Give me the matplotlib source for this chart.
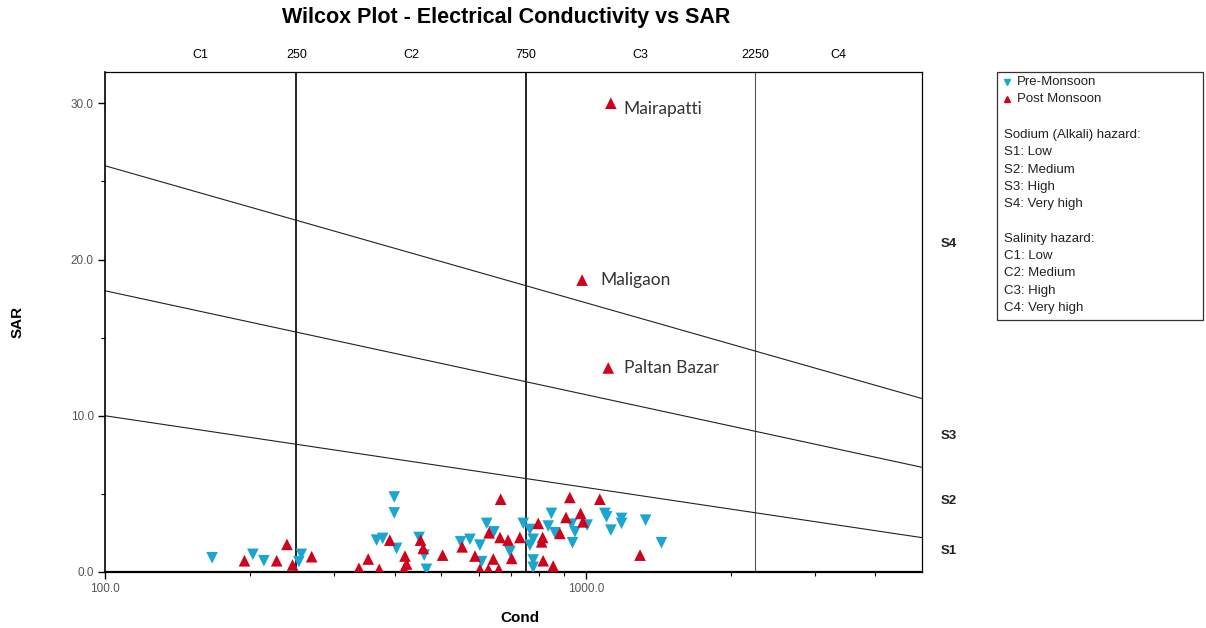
import matplotlib
matplotlib.use("Agg")
import matplotlib.pyplot as plt
import matplotlib.transforms as mtransforms
from matplotlib.lines import Line2D
from matplotlib.patches import Rectangle
from matplotlib.ticker import FixedLocator, NullFormatter

# ---------------- data ----------------
pre_ec = [167, 203, 214, 256, 253,
          399.5, 399.5, 367, 378, 404, 450, 461, 466, 549, 574, 602, 607, 622, 644,
          848, 1095, 1104, 1186, 1186, 1331, 1127, 1006, 934, 949, 938, 835, 862,
          777, 741, 765, 765, 695, 777, 777, 1436]
pre_sar = [0.91, 1.13, 0.72, 1.13, 0.66,
           4.8, 3.78, 2.04, 2.15, 1.51, 2.21, 1.08, 0.17, 1.93, 2.09, 1.72, 0.66, 3.11, 2.57,
           3.75, 3.75, 3.53, 3.43, 3.11, 3.32, 2.68, 3.0, 3.06, 2.57, 1.87, 2.94, 2.51,
           2.09, 3.11, 2.72, 1.72, 1.30, 0.77, 0.3, 1.87]

post_ec = [195, 227.5, 239, 245.5, 269,
           391, 352.7, 337.4, 371.8, 420.5, 423.8, 418.5, 453, 459, 503.6, 553, 588, 602,
           627, 659, 642, 629, 663, 665, 689,
           926, 1069, 909, 975, 986, 796, 883, 813, 809, 729, 701, 815, 855, 1296]
post_sar = [0.72, 0.72, 1.77, 0.45, 0.98,
            2.04, 0.83, 0.24, 0.17, 1.02, 0.51, 0.19, 2.04, 1.51, 1.08, 1.61, 1.02, 0.17,
            0.17, 0.17, 0.83, 2.51, 2.21, 4.66, 2.04,
            4.77, 4.66, 3.49, 3.75, 3.21, 3.11, 2.47, 2.21, 1.93, 2.21, 0.87, 0.72, 0.38, 1.08]

named_sites = ["Mairapatti", "Maligaon", "Paltan Bazar"]
named_ec = [1127, 982, 1113]
named_sar = [30.0, 18.68, 13.06]

# salinity class boundaries (EC) and class labels
c_bounds = [250, 750, 2250]
c_labels = ["C1", "C2", "C3", "C4"]
c_label_pos = [158, 433, 1299, 3354]

# sodium hazard boundary lines: SAR at EC=100 and EC=5000
s_line_ec = [100, 5000]
s_line_sar = [[26.0, 11.1], [18.0, 6.7], [10.0, 2.2]]
s_labels = ["S4", "S3", "S2", "S1"]
s_label_sar = [21.0, 8.68, 4.53, 1.34]

legend_series = ["Pre-Monsoon", "Post Monsoon"]
legend_lines = ["Sodium (Alkali) hazard:", "S1: Low", "S2: Medium", "S3: High", "S4: Very high",
                "", "Salinity hazard:", "C1: Low", "C2: Medium", "C3: High", "C4: Very high"]

BLUE = "#1ba6d2"
RED = "#d0021b"
SANS = ["Liberation Sans", "DejaVu Sans"]

plt.rcParams["font.family"] = SANS

fig = plt.figure(figsize=(12.06, 6.28), dpi=100)
ax = fig.add_axes([105 / 1206, 56 / 628, 817 / 1206, 500 / 628])
ax.set_xscale("log")
ax.set_xlim(100, 5000)
ax.set_ylim(0, 32)

# boundary lines
for i, b in enumerate(c_bounds):
    if i < 2:
        ax.axvline(b, color="#222222", lw=1.4, zorder=1)
    else:
        ax.axvline(b, color="#555555", lw=0.8, zorder=1)
for ys in s_line_sar:
    ax.plot(s_line_ec, ys, color="#222222", lw=0.8, zorder=1)

# data
ax.scatter(pre_ec, pre_sar, marker="v", s=70, color=BLUE, edgecolors="none", zorder=3)
ax.scatter(post_ec, post_sar, marker="^", s=70, color=RED, edgecolors="none", zorder=3)
ax.scatter(named_ec, named_sar, marker="^", s=70, color=RED, edgecolors="none", zorder=3)
offsets = [(9, -4), (13, 0), (11, 0)]
for name, x, y, off in zip(named_sites, named_ec, named_sar, offsets):
    ax.annotate(name, (x, y), xytext=off, textcoords="offset points",
                ha="left", va="center", fontsize=12.5, color="#333333",
                family=["Lato", "DejaVu Sans"])

# ticks
ax.xaxis.set_major_locator(FixedLocator([100, 1000]))
ax.xaxis.set_minor_locator(FixedLocator([200, 300, 400, 500, 600, 700, 800, 900, 2000, 3000, 4000]))
ax.xaxis.set_minor_formatter(NullFormatter())
ax.set_xticklabels(["100.0", "1000.0"])
ax.yaxis.set_major_locator(FixedLocator([0, 10, 20, 30]))
ax.yaxis.set_minor_locator(FixedLocator([5, 15, 25]))
ax.set_yticklabels(["0.0", "10.0", "20.0", "30.0"])
ax.tick_params(which="major", direction="out", length=5, width=1, labelsize=8.5,
               labelcolor="#555555", pad=3)
ax.tick_params(which="minor", direction="out", length=3, width=0.8)
for sp in ax.spines.values():
    sp.set_linewidth(0.9)
ax.spines["bottom"].set_linewidth(1.6)
ax.spines["left"].set_linewidth(1.2)

# axis titles
fig.text(520 / 1206, 1 - 618 / 628, "Cond", ha="center", va="center",
         fontsize=11, fontweight="bold")
fig.text(18 / 1206, 1 - 322 / 628, "SAR", ha="center", va="center", rotation=90,
         fontsize=11, fontweight="bold")

# top class labels
trans_top = mtransforms.blended_transform_factory(ax.transData, ax.transAxes)
for b in c_bounds:
    ax.text(b, 1.034, str(b), transform=trans_top, ha="center", va="center", fontsize=9)
for lab, xp in zip(c_labels, c_label_pos):
    ax.text(xp, 1.034, lab, transform=trans_top, ha="center", va="center", fontsize=9)

# right S labels
trans_right = mtransforms.blended_transform_factory(ax.transAxes, ax.transData)
for lab, yp in zip(s_labels, s_label_sar):
    ax.text(1.033, yp, lab, transform=trans_right, ha="center", va="center",
            fontsize=9.5, fontweight="bold", color="#222222")

# title
fig.text(506 / 1206, 1 - 18 / 628, "Wilcox Plot - Electrical Conductivity vs SAR",
         ha="center", va="center", fontsize=15.5, fontweight="bold")

# legend box
def fx(px):
    return px / 1206

def fy(py):
    return 1 - py / 628

fig.add_artist(Rectangle((fx(997), fy(320)), fx(1203) - fx(997), fy(72) - fy(320),
                         transform=fig.transFigure, fill=False, edgecolor="#333333", lw=0.9))
fig.add_artist(Line2D([fx(1007)], [fy(82)], marker="v", markersize=5, color=BLUE,
                      linestyle="none", transform=fig.transFigure))
fig.add_artist(Line2D([fx(1007)], [fy(99)], marker="^", markersize=5, color=RED,
                      linestyle="none", transform=fig.transFigure))
fig.text(fx(1017), fy(82), legend_series[0], ha="left", va="center", fontsize=9.5, color="#222222")
fig.text(fx(1017), fy(99), legend_series[1], ha="left", va="center", fontsize=9.5, color="#222222")
y0 = 135
for i, t in enumerate(legend_lines):
    fig.text(fx(1004), fy(y0 + i * 17.3), t, ha="left", va="center", fontsize=9.5, color="#222222")

fig.savefig("out.png", dpi=100)
